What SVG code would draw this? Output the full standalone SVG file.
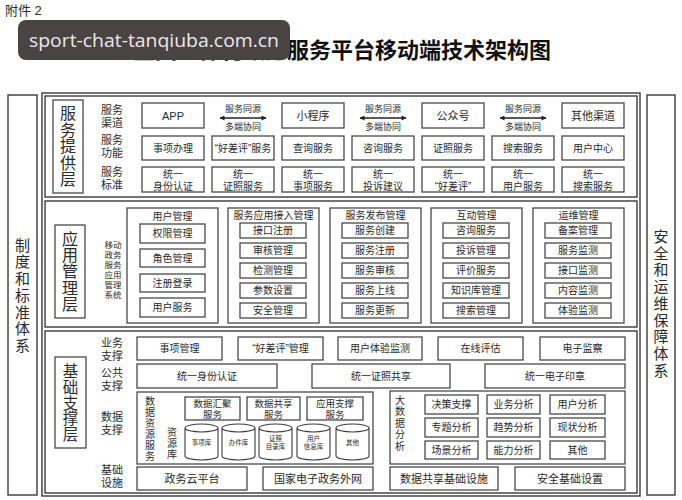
<svg xmlns="http://www.w3.org/2000/svg" width="682" height="500" viewBox="0 0 682 500">
<style>
text{font-family:"Liberation Sans","Noto Sans CJK SC",sans-serif;fill:#2a2a2a;text-anchor:middle;dominant-baseline:central}
.vt{writing-mode:vertical-rl;text-orientation:upright;font-family:"Noto Sans CJK SC",sans-serif}
.b{fill:#fff;stroke:#3a3a3a;stroke-width:1.2}
.f{fill:none;stroke:#3a3a3a;stroke-width:1.4}
.t11{font-size:11px}
.t10{font-size:10px}
.t95{font-size:9.5px}
.t9{font-size:9px}
.v9{font-size:8.5px}
.t7{font-size:6.5px}
.cyl{fill:#fff;stroke:#3a3a3a;stroke-width:1.1}
</style>
<defs>
<marker id="ah" viewBox="0 0 10 10" refX="9" refY="5" markerWidth="7" markerHeight="5" orient="auto-start-reverse" markerUnits="userSpaceOnUse"><path d="M0,0 L10,5 L0,10 Z" fill="#222"/></marker>
</defs>
<rect width="682" height="500" fill="#fff"/>
<text x="5" y="10" style="font-size:13px;text-anchor:start">附件 2</text>
<text x="342" y="50" style="font-size:22px;font-weight:bold;fill:#111">全国一体化政务服务平台移动端技术架构图</text>

<!-- side columns -->
<g id="left-col"><rect class="f" x="8" y="95" width="29" height="400"/>
<text class="vt" x="22.5" y="296" style="font-size:15px;letter-spacing:1.7px">制度和标准体系</text></g>
<g id="right-col"><rect class="f" x="647" y="95" width="28" height="400"/>
<text class="vt" x="661" y="304" style="font-size:15px;letter-spacing:1.7px">安全和运维保障体系</text></g>

<rect class="f" x="42" y="93" width="598" height="403"/>

<!-- Layer 1 -->
<g id="layer-service">
<rect class="f" x="45" y="96" width="592" height="101"/>
<rect class="b" x="53" y="100" width="30" height="93"/>
<text class="vt" x="68" y="146.5" style="font-size:16px;letter-spacing:0.6px">服务提供层</text>
<text class="t11"><tspan x="112" y="110">服务</tspan><tspan x="112" y="123">渠道</tspan></text>
<text class="t11"><tspan x="112" y="140">服务</tspan><tspan x="112" y="153">功能</tspan></text>
<text class="t11"><tspan x="112" y="172">服务</tspan><tspan x="112" y="185">标准</tspan></text>
</g>
<g id="row-channel">
<rect class="b" x="142" y="103" width="62" height="25"/><text class="t11" x="173" y="115.5">APP</text>
<rect class="b" x="282" y="103" width="62" height="25"/><text class="t11" x="313" y="115.5">小程序</text>
<rect class="b" x="422" y="103" width="62" height="25"/><text class="t11" x="453" y="115.5">公众号</text>
<rect class="b" x="562" y="103" width="62" height="25"/><text class="t11" x="593" y="115.5">其他渠道</text>
<text class="t9" x="243" y="109">服务同源</text><text class="t9" x="243" y="127">多端协同</text>
<text class="t9" x="383" y="109">服务同源</text><text class="t9" x="383" y="127">多端协同</text>
<text class="t9" x="523" y="109">服务同源</text><text class="t9" x="523" y="127">多端协同</text>
</g>
<g id="row-function">
<rect class="b" x="142" y="136" width="62" height="24"/><text class="t10" x="173" y="148">事项办理</text>
<rect class="b" x="212" y="136" width="62" height="24"/><text class="t10" x="243" y="148">“好差评”服务</text>
<rect class="b" x="282" y="136" width="62" height="24"/><text class="t10" x="313" y="148">查询服务</text>
<rect class="b" x="352" y="136" width="62" height="24"/><text class="t10" x="383" y="148">咨询服务</text>
<rect class="b" x="422" y="136" width="62" height="24"/><text class="t10" x="453" y="148">证照服务</text>
<rect class="b" x="492" y="136" width="62" height="24"/><text class="t10" x="523" y="148">搜索服务</text>
<rect class="b" x="562" y="136" width="62" height="24"/><text class="t10" x="593" y="148">用户中心</text>
</g>
<g id="row-standard">
<rect class="b" x="142" y="167" width="62" height="25"/><text class="t10"><tspan x="173" y="173.5">统一</tspan><tspan x="173" y="185.5">身份认证</tspan></text>
<rect class="b" x="212" y="167" width="62" height="25"/><text class="t10"><tspan x="243" y="173.5">统一</tspan><tspan x="243" y="185.5">证照服务</tspan></text>
<rect class="b" x="282" y="167" width="62" height="25"/><text class="t10"><tspan x="313" y="173.5">统一</tspan><tspan x="313" y="185.5">事项服务</tspan></text>
<rect class="b" x="352" y="167" width="62" height="25"/><text class="t10"><tspan x="383" y="173.5">统一</tspan><tspan x="383" y="185.5">投诉建议</tspan></text>
<rect class="b" x="422" y="167" width="62" height="25"/><text class="t10"><tspan x="453" y="173.5">统一</tspan><tspan x="453" y="185.5">“好差评”</tspan></text>
<rect class="b" x="492" y="167" width="62" height="25"/><text class="t10"><tspan x="523" y="173.5">统一</tspan><tspan x="523" y="185.5">用户服务</tspan></text>
<rect class="b" x="562" y="167" width="62" height="25"/><text class="t10"><tspan x="593" y="173.5">统一</tspan><tspan x="593" y="185.5">搜索服务</tspan></text>
</g>

<!-- Layer 2 -->
<g id="layer-app">
<rect class="f" x="45" y="201" width="592" height="126"/>
<rect class="b" x="55" y="225" width="30" height="93"/>
<text class="vt" x="70" y="271.5" style="font-size:16px;letter-spacing:0.4px">应用管理层</text>
<text class="v9"><tspan x="113" y="245">移动</tspan><tspan x="113" y="255">政务</tspan><tspan x="113" y="265">服务</tspan><tspan x="113" y="275">应用</tspan><tspan x="113" y="285">管理</tspan><tspan x="113" y="295">系统</tspan></text>
</g>
<g id="grp-user">
<rect class="b" x="127" y="208" width="91" height="115"/><text class="t10" x="172.5" y="216">用户管理</text>
<rect class="b" x="140" y="224" width="65" height="19"/><text class="t10" x="172.5" y="233.5">权限管理</text>
<rect class="b" x="140" y="249" width="65" height="18"/><text class="t10" x="172.5" y="258">角色管理</text>
<rect class="b" x="140" y="274" width="65" height="18"/><text class="t10" x="172.5" y="283">注册登录</text>
<rect class="b" x="140" y="298" width="65" height="19"/><text class="t10" x="172.5" y="307.5">用户服务</text>
</g>
<g id="grp-access">
<rect class="b" x="228" y="208" width="91" height="115"/><text class="t10" x="273.5" y="215.5">服务应用接入管理</text>
<rect class="b" x="240" y="223" width="66" height="15"/><text class="t10" x="273" y="230.5">接口注册</text>
<rect class="b" x="240" y="243" width="66" height="15"/><text class="t10" x="273" y="250.5">审核管理</text>
<rect class="b" x="240" y="263" width="66" height="15"/><text class="t10" x="273" y="270.5">检测管理</text>
<rect class="b" x="240" y="283" width="66" height="15"/><text class="t10" x="273" y="290.5">参数设置</text>
<rect class="b" x="240" y="303" width="66" height="15"/><text class="t10" x="273" y="310.5">安全管理</text>
</g>
<g id="grp-publish">
<rect class="b" x="330" y="208" width="91" height="115"/><text class="t10" x="375.5" y="215.5">服务发布管理</text>
<rect class="b" x="342" y="223" width="66" height="15"/><text class="t10" x="375" y="230.5">服务创建</text>
<rect class="b" x="342" y="243" width="66" height="15"/><text class="t10" x="375" y="250.5">服务注册</text>
<rect class="b" x="342" y="263" width="66" height="15"/><text class="t10" x="375" y="270.5">服务审核</text>
<rect class="b" x="342" y="283" width="66" height="15"/><text class="t10" x="375" y="290.5">服务上线</text>
<rect class="b" x="342" y="303" width="66" height="15"/><text class="t10" x="375" y="310.5">服务更新</text>
</g>
<g id="grp-interact">
<rect class="b" x="431" y="208" width="91" height="115"/><text class="t10" x="476.5" y="215.5">互动管理</text>
<rect class="b" x="443" y="223" width="66" height="15"/><text class="t10" x="476" y="230.5">咨询服务</text>
<rect class="b" x="443" y="243" width="66" height="15"/><text class="t10" x="476" y="250.5">投诉管理</text>
<rect class="b" x="443" y="263" width="66" height="15"/><text class="t10" x="476" y="270.5">评价服务</text>
<rect class="b" x="443" y="283" width="66" height="15"/><text class="t10" x="476" y="290.5">知识库管理</text>
<rect class="b" x="443" y="303" width="66" height="15"/><text class="t10" x="476" y="310.5">搜索管理</text>
</g>
<g id="grp-ops">
<rect class="b" x="533" y="208" width="91" height="115"/><text class="t10" x="578.5" y="215.5">运维管理</text>
<rect class="b" x="545" y="223" width="66" height="15"/><text class="t10" x="578" y="230.5">备案管理</text>
<rect class="b" x="545" y="243" width="66" height="15"/><text class="t10" x="578" y="250.5">服务监测</text>
<rect class="b" x="545" y="263" width="66" height="15"/><text class="t10" x="578" y="270.5">接口监测</text>
<rect class="b" x="545" y="283" width="66" height="15"/><text class="t10" x="578" y="290.5">内容监测</text>
<rect class="b" x="545" y="303" width="66" height="15"/><text class="t10" x="578" y="310.5">体验监测</text>
</g>

<!-- Layer 3 -->
<g id="layer-base">
<rect class="f" x="45" y="331" width="592" height="162"/>
<rect class="b" x="55" y="357" width="31" height="91"/>
<text class="vt" x="70.5" y="403" style="font-size:15.5px;letter-spacing:0.2px">基础支撑层</text>
<text class="t11"><tspan x="112" y="343">业务</tspan><tspan x="112" y="356">支撑</tspan></text>
<text class="t11"><tspan x="112" y="373">公共</tspan><tspan x="112" y="386">支撑</tspan></text>
<text class="t11"><tspan x="112" y="417">数据</tspan><tspan x="112" y="430">支撑</tspan></text>
<text class="t11"><tspan x="112" y="470">基础</tspan><tspan x="112" y="483">设施</tspan></text>
</g>
<g id="row-business">
<rect class="b" x="137" y="337" width="85" height="23"/><text class="t10" x="179.5" y="348.5">事项管理</text>
<rect class="b" x="238" y="337" width="85" height="23"/><text class="t10" x="280.5" y="348.5">“好差评”管理</text>
<rect class="b" x="338" y="337" width="84" height="23"/><text class="t10" x="380" y="348.5">用户体验监测</text>
<rect class="b" x="438" y="337" width="85" height="23"/><text class="t10" x="480.5" y="348.5">在线评估</text>
<rect class="b" x="540" y="337" width="85" height="23"/><text class="t10" x="582.5" y="348.5">电子监察</text>
</g>
<g id="row-public">
<rect class="b" x="137" y="364" width="140" height="24"/><text class="t10" x="207" y="376">统一身份认证</text>
<rect class="b" x="312" y="364" width="138" height="24"/><text class="t10" x="381" y="376">统一证照共享</text>
<rect class="b" x="485" y="364" width="140" height="24"/><text class="t10" x="555" y="376">统一电子印章</text>
</g>
<g id="data-resource">
<rect class="b" x="137" y="392" width="236" height="72"/>
<text class="vt" x="150" y="429" style="font-size:10px;letter-spacing:1px">数据资源服务</text>
<text class="vt" x="172" y="443.5" style="font-size:10px;letter-spacing:1px">资源库</text>
<rect class="b" x="185" y="397" width="55" height="23"/><text class="t95"><tspan x="212.5" y="402.5">数据汇聚</tspan><tspan x="212.5" y="414">服务</tspan></text>
<rect class="b" x="247" y="397" width="53" height="23"/><text class="t95"><tspan x="273.5" y="402.5">数据共享</tspan><tspan x="273.5" y="414">服务</tspan></text>
<rect class="b" x="307" y="397" width="56" height="23"/><text class="t95"><tspan x="335" y="402.5">应用支撑</tspan><tspan x="335" y="414">服务</tspan></text>
<g id="cylinders">
<path class="cyl" d="M185,428 L185,456 A16.5,4 0 0 0 218,456 L218,428 A16.5,4 0 0 0 185,428 A16.5,4 0 0 0 218,428"/>
<path class="cyl" d="M222,428 L222,456 A16.5,4 0 0 0 255,456 L255,428 A16.5,4 0 0 0 222,428 A16.5,4 0 0 0 255,428"/>
<path class="cyl" d="M259,428 L259,456 A16.5,4 0 0 0 292,456 L292,428 A16.5,4 0 0 0 259,428 A16.5,4 0 0 0 292,428"/>
<path class="cyl" d="M297,428 L297,456 A16.5,4 0 0 0 330,456 L330,428 A16.5,4 0 0 0 297,428 A16.5,4 0 0 0 330,428"/>
<path class="cyl" d="M336,428 L336,456 A16.5,4 0 0 0 369,456 L369,428 A16.5,4 0 0 0 336,428 A16.5,4 0 0 0 369,428"/>
<text class="t7" x="201.5" y="442">事项库</text>
<text class="t7" x="238.5" y="442">办件库</text>
<text class="t7"><tspan x="275.5" y="437.5">证照</tspan><tspan x="275.5" y="446">目录库</tspan></text>
<text class="t7"><tspan x="313.5" y="437.5">用户</tspan><tspan x="313.5" y="446">信息库</tspan></text>
<text class="t7" x="352.5" y="442">其他</text>
</g>
</g>
<g id="big-data">
<rect class="b" x="390" y="391" width="235" height="73"/>
<text class="vt" x="400" y="423.5" style="font-size:10px;letter-spacing:1.5px">大数据分析</text>
<rect class="b" x="425" y="395" width="53" height="19"/><text class="t10" x="451.5" y="404.5">决策支撑</text>
<rect class="b" x="487" y="395" width="53" height="19"/><text class="t10" x="513.5" y="404.5">业务分析</text>
<rect class="b" x="550" y="395" width="55" height="19"/><text class="t10" x="577.5" y="404.5">用户分析</text>
<rect class="b" x="425" y="418" width="53" height="19"/><text class="t10" x="451.5" y="427.5">专题分析</text>
<rect class="b" x="487" y="418" width="53" height="19"/><text class="t10" x="513.5" y="427.5">趋势分析</text>
<rect class="b" x="550" y="418" width="55" height="19"/><text class="t10" x="577.5" y="427.5">现状分析</text>
<rect class="b" x="425" y="441" width="53" height="18"/><text class="t10" x="451.5" y="450">场景分析</text>
<rect class="b" x="487" y="441" width="53" height="18"/><text class="t10" x="513.5" y="450">能力分析</text>
<rect class="b" x="550" y="441" width="55" height="18"/><text class="t10" x="577.5" y="450">其他</text>
</g>
<g id="row-infra">
<rect class="b" x="137" y="467" width="110" height="23"/><text class="t11" x="192" y="478.5">政务云平台</text>
<rect class="b" x="263" y="467" width="110" height="23"/><text class="t11" x="318" y="478.5">国家电子政务外网</text>
<rect class="b" x="390" y="467" width="108" height="23"/><text class="t11" x="444" y="478.5">数据共享基础设施</text>
<rect class="b" x="515" y="467" width="110" height="23"/><text class="t11" x="570" y="478.5">安全基础设置</text>
</g>

<!-- connectors -->
<g id="connectors" stroke="#222" stroke-width="1.6">
<line x1="220" y1="118" x2="266" y2="118" marker-start="url(#ah)" marker-end="url(#ah)"/>
<line x1="360" y1="118" x2="406" y2="118" marker-start="url(#ah)" marker-end="url(#ah)"/>
<line x1="500" y1="118" x2="546" y2="118" marker-start="url(#ah)" marker-end="url(#ah)"/>
</g>

<!-- watermark overlay -->
<g id="watermark">
<rect x="18" y="20" width="272" height="40" rx="8" fill="#4a4344"/>
<text x="154" y="40" textLength="250" lengthAdjust="spacingAndGlyphs" style="font-family:'Open Sans','Noto Sans',sans-serif;font-size:18px;fill:#ece8e8">sport-chat-tanqiuba.com.cn</text>
</g>
</svg>
